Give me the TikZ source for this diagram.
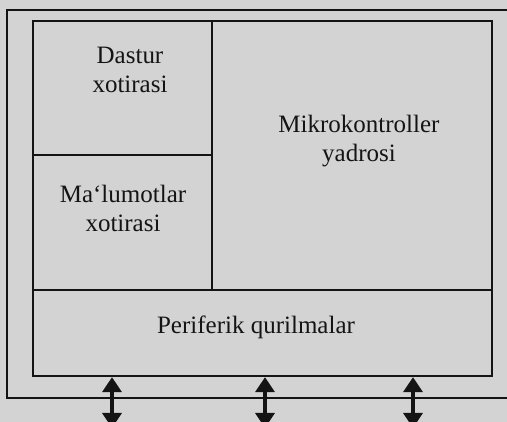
\documentclass[tikz,border=0pt]{standalone}
\usepackage{fontspec}
\setmainfont{Liberation Serif}
\usetikzlibrary{arrows.meta}
\definecolor{bgcol}{RGB}{211,211,211}
\definecolor{ink}{RGB}{20,20,20}
\tikzset{
  blk/.style={draw=ink, line width=2.3pt, inner sep=0pt},
  txt/.style={text=ink, align=center, font=\fontsize{25}{29}\selectfont, inner sep=0pt},
  bus/.style={draw=ink, line width=3.2pt, {Triangle[width=19pt,length=15pt]}-{Triangle[width=19pt,length=15pt]}}
}
\begin{document}
\begin{tikzpicture}[x=1pt,y=-1pt]
\useasboundingbox (0,0) rectangle (507,422);
\fill[bgcol] (0,0) rectangle (507,422);
% outer frame (right side runs off the picture)
\node[draw=ink, line width=2pt, inner sep=0pt, minimum width=540pt, minimum height=388pt] (outer) at (277,204) {};
% blocks
\node[blk, minimum width=179pt, minimum height=134pt] (dastur) at (122.5,88) {};
\node[blk, minimum width=179pt, minimum height=135pt] (malumot) at (122.5,222.5) {};
\node[blk, minimum width=280pt, minimum height=269pt] (core) at (352,155.5) {};
\node[blk, minimum width=459pt, minimum height=86pt] (periph) at (262.5,333) {};
% texts
\node[txt] (tdastur) at (130,70) {Dastur\\xotirasi};
\node[txt] (tmalumot) at (123,208) {Ma`lumotlar\\xotirasi};
\node[txt] (tcore) at (359,141) {Mikrokontroller\\yadrosi};
\node[txt] (tperiph) at (256,327) {Periferik qurilmalar};
% external buses
\coordinate (e1) at (112,428);
\coordinate (e2) at (265,428);
\coordinate (e3) at (413,428);
\draw[bus] (periph.south -| e1) -- (e1);
\draw[bus] (periph.south -| e2) -- (e2);
\draw[bus] (periph.south -| e3) -- (e3);
\end{tikzpicture}
\end{document}
